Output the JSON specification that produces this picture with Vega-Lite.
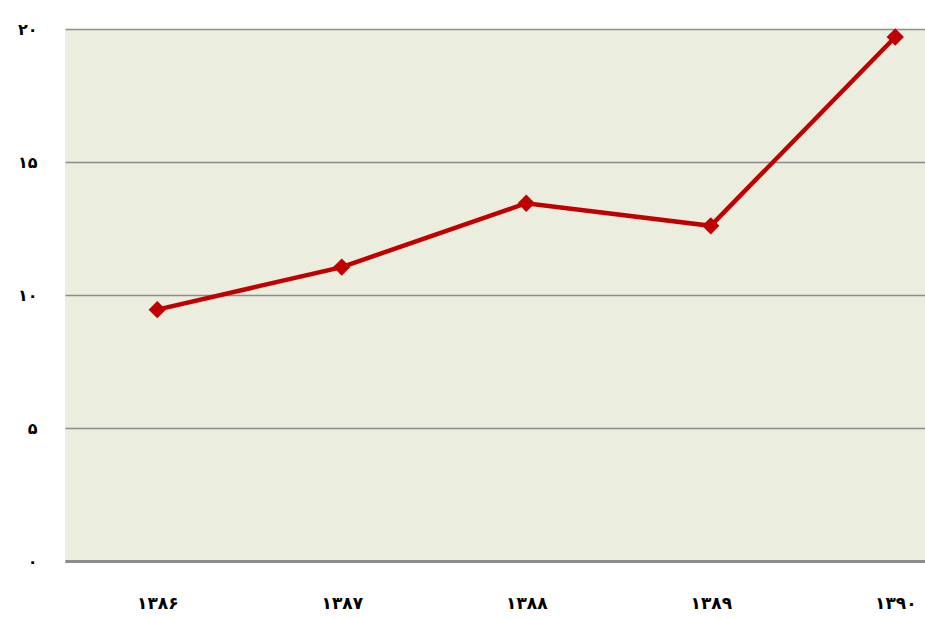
{
  "$schema": "https://vega.github.io/schema/vega-lite/v6.json",
  "autosize": "none",
  "width": 860,
  "height": 532,
  "padding": {"top": 29, "left": 65, "right": 0, "bottom": 58},
  "background": "white",
  "config": {
    "view": {"fill": "#EBEEDE", "stroke": null},
    "font": "DejaVu Sans"
  },
  "data": {
    "values": [
      {"year": "۱۳۸۶", "value": 9.45},
      {"year": "۱۳۸۷", "value": 11.05},
      {"year": "۱۳۸۸", "value": 13.45},
      {"year": "۱۳۸۹", "value": 12.6},
      {"year": "۱۳۹۰", "value": 19.7}
    ]
  },
  "encoding": {
    "x": {
      "field": "year",
      "type": "ordinal",
      "sort": null,
      "scale": {"type": "point", "range": [0, 922.5], "padding": 0.5},
      "axis": {
        "title": null,
        "labelAngle": 0,
        "ticks": false,
        "domain": true,
        "domainColor": "#8C8C8C",
        "domainWidth": 3,
        "labelPadding": 34,
        "labelFontSize": 17,
        "labelFontWeight": "bold",
        "labelColor": "#000000",
        "grid": false
      }
    },
    "y": {
      "field": "value",
      "type": "quantitative",
      "scale": {"domain": [0, 20]},
      "axis": {
        "title": null,
        "values": [0, 5, 10, 15, 20],
        "labelExpr": "datum.value == 0 ? '۰' : datum.value == 5 ? '۵' : datum.value == 10 ? '۱۰' : datum.value == 15 ? '۱۵' : '۲۰'",
        "ticks": false,
        "domain": false,
        "grid": true,
        "gridColor": "#8C8C8C",
        "gridWidth": 1.5,
        "labelPadding": 28,
        "labelFontSize": 16,
        "labelFontWeight": "bold",
        "labelColor": "#000000"
      }
    }
  },
  "layer": [
    {
      "mark": {"type": "line", "color": "#C00000", "strokeWidth": 4.5}
    },
    {
      "mark": {"type": "point", "shape": "diamond", "filled": true, "color": "#C00000", "size": 300, "opacity": 1}
    }
  ]
}
